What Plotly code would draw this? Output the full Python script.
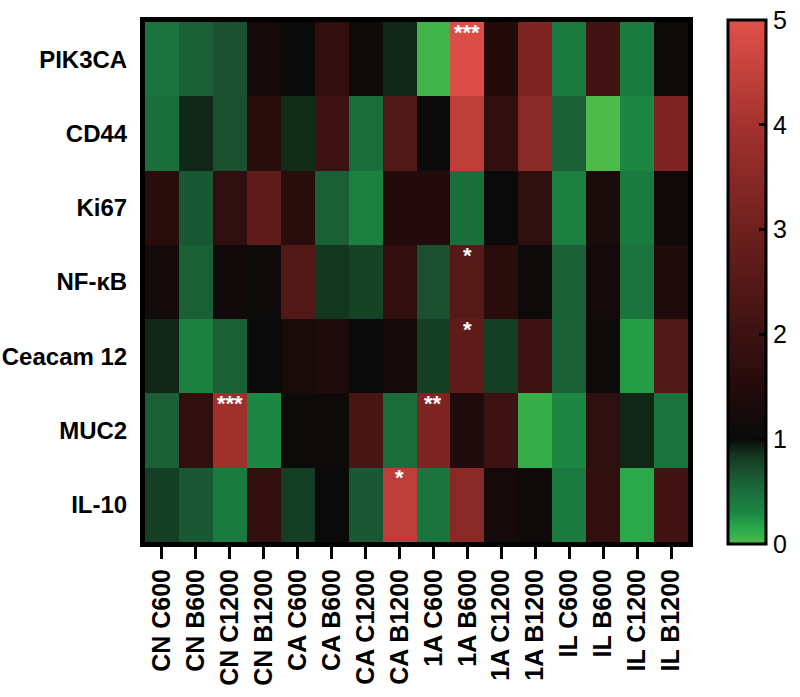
import plotly.graph_objects as go

columns = ["CN C600", "CN B600", "CN C1200", "CN B1200",
           "CA C600", "CA B600", "CA C1200", "CA B1200",
           "1A C600", "1A B600", "1A C1200", "1A B1200",
           "IL C600", "IL B600", "IL C1200", "IL B1200"]
genes = ["PIK3CA", "CD44", "Ki67", "NF-κB", "Ceacam 12", "MUC2", "IL-10"]

pik3ca   = [0.45, 0.6, 0.7, 1.2, 1.0, 1.8, 1.05, 0.9, 0.05, 4.9, 1.5, 3.3, 0.4, 2.1, 0.4, 1.1]
cd44     = [0.5, 0.9, 0.7, 1.6, 0.88, 2.0, 0.5, 2.4, 1.0, 4.4, 1.8, 3.5, 0.6, 0.0, 0.3, 3.3]
ki67     = [1.6, 0.65, 1.7, 2.7, 1.6, 0.6, 0.35, 1.5, 1.5, 0.5, 1.0, 1.7, 0.35, 1.3, 0.4, 1.15]
nfkb     = [1.2, 0.6, 1.15, 1.05, 2.4, 0.85, 0.78, 1.8, 0.7, 2.5, 1.6, 1.1, 0.6, 1.2, 0.45, 1.4]
ceacam12 = [0.9, 0.35, 0.6, 1.0, 1.3, 1.4, 1.0, 1.2, 0.8, 2.7, 0.8, 2.0, 0.6, 1.1, 0.2, 2.4]
muc2     = [0.6, 1.8, 3.9, 0.3, 1.05, 1.1, 2.2, 0.5, 3.3, 1.4, 2.0, 0.1, 0.3, 1.7, 0.9, 0.45]
il10     = [0.8, 0.65, 0.4, 1.8, 0.8, 1.0, 0.65, 4.4, 0.45, 3.5, 1.2, 1.1, 0.4, 1.8, 0.15, 2.1]

sig_genes = ["PIK3CA", "NF-κB", "Ceacam 12", "MUC2", "MUC2", "IL-10"]
sig_cols = ["1A B600", "1A B600", "1A B600", "CN C1200", "1A C600", "CA B1200"]
sig_labels = ["***", "*", "*", "***", "**", "*"]

z = [pik3ca, cd44, ki67, nfkb, ceacam12, muc2, il10]

colorscale = [
    [0.00, "#4cbb4a"],
    [0.03, "#2aa84a"],
    [0.06, "#1c8642"],
    [0.10, "#1a6e3c"],
    [0.14, "#1a5030"],
    [0.17, "#13361e"],
    [0.20, "#0a0a0a"],
    [0.30, "#240b0b"],
    [0.40, "#3c1212"],
    [0.60, "#6e201e"],
    [0.80, "#a4322e"],
    [1.00, "#e2504a"],
]

font_family = "Liberation Sans, Arial, sans-serif"

fig = go.Figure(go.Heatmap(
    z=z, x=columns, y=genes,
    zmin=0, zmax=5,
    colorscale=colorscale,
    xgap=0, ygap=0,
    colorbar=dict(
        x=1.074, xanchor="left", xpad=0,
        y=0.5, yanchor="middle", ypad=0,
        lenmode="pixels", len=524,
        thickness=38,
        outlinewidth=3, outlinecolor="black",
        tickvals=[0, 1, 2, 3, 4, 5],
        ticks="inside", ticklen=8, tickwidth=3, tickcolor="black",
        tickfont=dict(family=font_family, size=25, color="black"),
    ),
))

for g, c, lab in zip(sig_genes, sig_cols, sig_labels):
    fig.add_annotation(x=c, y=g, text=lab, showarrow=False,
                       yanchor="middle", yshift=27,
                       font=dict(family=font_family, size=22, color="white",
                                 weight="bold"))

fig.update_xaxes(
    range=[-0.5, len(columns) - 0.5],
    tickangle=-90,
    ticks="outside", ticklen=12, tickwidth=3, tickcolor="black",
    tickfont=dict(family=font_family, size=25, color="black", weight="bold"),
    showline=True, linewidth=5, linecolor="black", mirror=True,
    showgrid=False, zeroline=False,
)
fig.update_yaxes(
    range=[len(genes) - 0.5, -0.5],
    ticks="", ticklabelstandoff=8,
    tickfont=dict(family=font_family, size=24, color="black", weight="bold"),
    showline=True, linewidth=5, linecolor="black", mirror=True,
    showgrid=False, zeroline=False,
)

fig.update_layout(
    width=800, height=697,
    margin=dict(l=145, r=112, t=22, b=155, autoexpand=False),
    paper_bgcolor="white", plot_bgcolor="white",
)

fig.write_html("out.html", config={"displayModeBar": False},
               post_script="document.body.style.margin='0px';")
